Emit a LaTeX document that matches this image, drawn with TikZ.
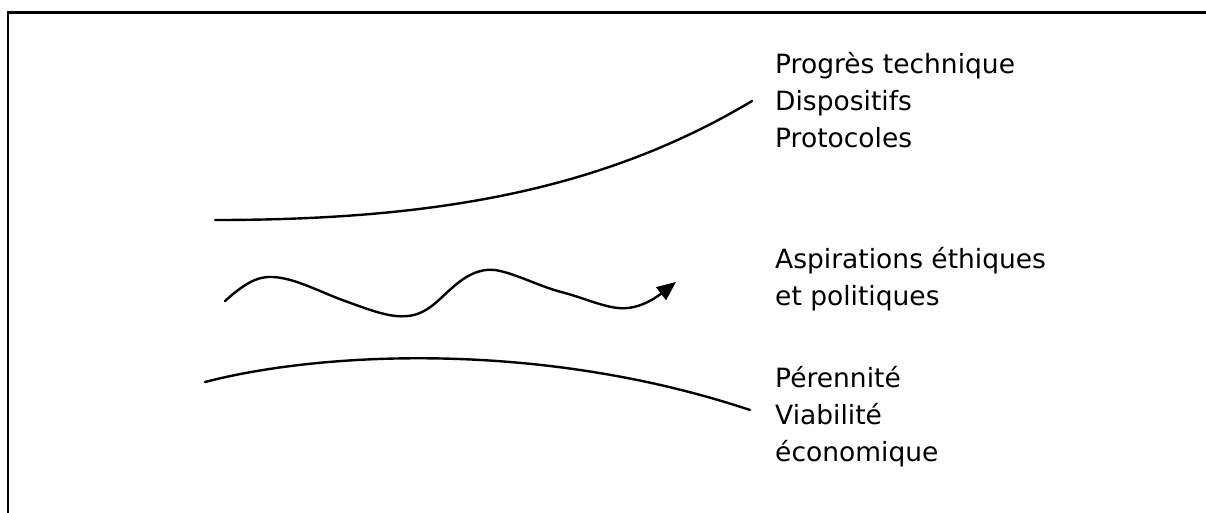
\documentclass[tikz,border=0pt]{standalone}
\usepackage{fontspec}
\setmainfont{DejaVu Sans}
\usetikzlibrary{arrows.meta}
\tikzset{
  lbl/.style={anchor=base west, align=left, inner sep=0pt, font=\fontsize{26.5}{37}\selectfont},
  curve/.style={line width=2.4pt, black, line cap=round},
  frame/.style={line width=2.2pt, black}
}
\begin{document}
\begin{tikzpicture}[x=1pt,y=-1pt]
\useasboundingbox (0,0) rectangle (1206,512);
\clip (0,0) rectangle (1206,512);
\fill[white] (0,0) rectangle (1206,512);
\draw[frame] (8,12.5) rectangle (1230,540);
% texts (anchored at the baseline of the last line)
\node[lbl] (t1) at (775,147.5) {Progrès technique\\Dispositifs\\Protocoles};
\node[lbl] (t2) at (775,305.5) {Aspirations éthiques\\et politiques};
\node[lbl] (t3) at (775,461) {Pérennité\\Viabilité\\économique};
% curves
\draw[curve] (215,220) .. controls (430,220) and (600,192) .. (752,101);
\draw[curve,-{Triangle[length=19pt,width=16pt]}]
  (225,301) .. controls (245,283) and (258,276) .. (273,277)
  .. controls (295,278) and (320,292) .. (345,301)
  .. controls (370,310) and (390,318) .. (408,316)
  .. controls (428,314) and (440,298) .. (452,288)
  .. controls (465,276) and (480,268) .. (495,270)
  .. controls (515,273) and (540,287) .. (565,293)
  .. controls (590,300) and (610,310) .. (628,308)
  .. controls (645,306) and (658,296) .. (676,282);
\draw[curve] (205,382) .. controls (320,352) and (540,340) .. (750,410);
\end{tikzpicture}
\end{document}
